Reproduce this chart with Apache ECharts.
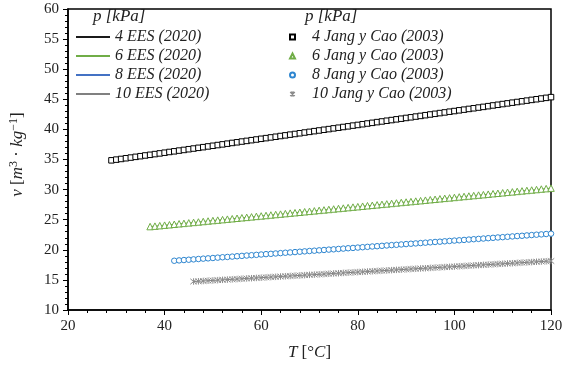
<!DOCTYPE html>
<html>
<head>
<meta charset="utf-8">
<script src="https://cdn.jsdelivr.net/npm/echarts@6/dist/echarts.min.js"></script>
<style>
  html, body { margin: 0; padding: 0; background: #fff; }
  #chart { width: 572px; height: 370px; }
</style>
</head>
<body>
<div id="chart"></div>
<script>
// Temperaturas de inicio de cada serie (°C), un punto por grado hasta 120
const tStart4 = 29;
const tStart6 = 37;
const tStart8 = 42;
const tStart10 = 46;

// Volumen específico v [m3/kg]
const v4 = [34.86, 34.98, 35.09, 35.21, 35.32, 35.44, 35.55, 35.67, 35.78, 35.90,
  36.01, 36.13, 36.25, 36.36, 36.48, 36.59, 36.71, 36.82, 36.94, 37.05,
  37.17, 37.28, 37.40, 37.51, 37.63, 37.75, 37.86, 37.98, 38.09, 38.21,
  38.32, 38.44, 38.55, 38.67, 38.78, 38.90, 39.01, 39.13, 39.24, 39.36,
  39.48, 39.59, 39.71, 39.82, 39.94, 40.05, 40.17, 40.28, 40.40, 40.51,
  40.63, 40.74, 40.86, 40.98, 41.09, 41.21, 41.32, 41.44, 41.55, 41.67,
  41.78, 41.90, 42.01, 42.13, 42.24, 42.36, 42.48, 42.59, 42.71, 42.82,
  42.94, 43.05, 43.17, 43.28, 43.40, 43.51, 43.63, 43.74, 43.86, 43.98,
  44.09, 44.21, 44.32, 44.44, 44.55, 44.67, 44.78, 44.90, 45.01, 45.13,
  45.24, 45.36];
const v6 = [23.86, 23.93, 24.01, 24.09, 24.16, 24.24, 24.32, 24.39, 24.47, 24.55,
  24.62, 24.70, 24.78, 24.86, 24.93, 25.01, 25.09, 25.16, 25.24, 25.32,
  25.39, 25.47, 25.55, 25.62, 25.70, 25.78, 25.86, 25.93, 26.01, 26.09,
  26.16, 26.24, 26.32, 26.39, 26.47, 26.55, 26.62, 26.70, 26.78, 26.86,
  26.93, 27.01, 27.09, 27.16, 27.24, 27.32, 27.39, 27.47, 27.55, 27.62,
  27.70, 27.78, 27.86, 27.93, 28.01, 28.09, 28.16, 28.24, 28.32, 28.39,
  28.47, 28.55, 28.62, 28.70, 28.78, 28.86, 28.93, 29.01, 29.09, 29.16,
  29.24, 29.32, 29.39, 29.47, 29.55, 29.62, 29.70, 29.78, 29.86, 29.93,
  30.01, 30.09, 30.16, 30.24];
const v8 = [18.18, 18.24, 18.30, 18.35, 18.41, 18.47, 18.53, 18.58, 18.64, 18.70,
  18.76, 18.81, 18.87, 18.93, 18.99, 19.05, 19.10, 19.16, 19.22, 19.28,
  19.33, 19.39, 19.45, 19.51, 19.56, 19.62, 19.68, 19.74, 19.80, 19.85,
  19.91, 19.97, 20.03, 20.08, 20.14, 20.20, 20.26, 20.31, 20.37, 20.43,
  20.49, 20.55, 20.60, 20.66, 20.72, 20.78, 20.83, 20.89, 20.95, 21.01,
  21.06, 21.12, 21.18, 21.24, 21.30, 21.35, 21.41, 21.47, 21.53, 21.58,
  21.64, 21.70, 21.76, 21.81, 21.87, 21.93, 21.99, 22.05, 22.10, 22.16,
  22.22, 22.28, 22.33, 22.39, 22.45, 22.51, 22.56, 22.62, 22.68];
const v10 = [14.73, 14.77, 14.82, 14.87, 14.91, 14.96, 15.01, 15.05, 15.10, 15.14,
  15.19, 15.24, 15.28, 15.33, 15.37, 15.42, 15.47, 15.51, 15.56, 15.61,
  15.65, 15.70, 15.74, 15.79, 15.84, 15.88, 15.93, 15.97, 16.02, 16.07,
  16.11, 16.16, 16.21, 16.25, 16.30, 16.34, 16.39, 16.44, 16.48, 16.53,
  16.57, 16.62, 16.67, 16.71, 16.76, 16.81, 16.85, 16.90, 16.94, 16.99,
  17.04, 17.08, 17.13, 17.17, 17.22, 17.27, 17.31, 17.36, 17.41, 17.45,
  17.50, 17.54, 17.59, 17.64, 17.68, 17.73, 17.77, 17.82, 17.87, 17.91,
  17.96, 18.01, 18.05, 18.10, 18.14];

const lineNames = ['4 EES (2020)', '6 EES (2020)', '8 EES (2020)', '10 EES (2020)'];
const pointNames = ['4 Jang y Cao (2003)', '6 Jang y Cao (2003)', '8 Jang y Cao (2003)', '10 Jang y Cao (2003)'];

const FONT = '"Liberation Serif", "Times New Roman", serif';

function pairs(t0, vals) {
  return vals.map((v, i) => [t0 + i, v]);
}

const chart = echarts.init(document.getElementById('chart'));

const sets = [
  { data: pairs(tStart4, v4), line: '#1a1a1a', mark: '#000000', symbol: 'rect', size: 5.5 },
  { data: pairs(tStart6, v6), line: '#70ad47', mark: '#70ad47', symbol: 'triangle', size: 6.5 },
  { data: pairs(tStart8, v8), line: '#4472c4', mark: '#2e86d0', symbol: 'circle', size: 5.5 },
  { data: pairs(tStart10, v10), line: '#808080', mark: '#8c8c8c',
    symbol: 'path://M5,0L5,10M0.8,0.8L9.2,9.2M9.2,0.8L0.8,9.2', size: 6.5 }
];

const series = [];
sets.forEach((s, i) => {
  series.push({
    name: lineNames[i],
    type: 'line',
    data: s.data,
    symbol: 'none',
    legendIcon: 'rect',
    lineStyle: { color: s.line, width: 1 },
    itemStyle: { color: s.line },
    z: 2
  });
});
sets.forEach((s, i) => {
  series.push({
    name: pointNames[i],
    type: 'scatter',
    data: s.data,
    symbol: s.symbol,
    symbolSize: s.size,
    itemStyle: {
      color: i === 3 ? 'transparent' : '#ffffff',
      borderColor: s.mark,
      borderWidth: 1,
      opacity: 1
    },
    z: 3
  });
});

const option = {
  animation: false,
  backgroundColor: '#ffffff',
  textStyle: { fontFamily: FONT },
  grid: {
    left: 62, right: 21, top: 9, bottom: 60,
    show: true, borderColor: '#000', borderWidth: 1.5
  },
  graphic: [
    { type: 'text', left: 93, top: 8,
      style: { text: 'p [kPa]', font: 'italic 17px ' + FONT, fill: '#222' } },
    { type: 'text', left: 305, top: 8,
      style: { text: 'p [kPa]', font: 'italic 17px ' + FONT, fill: '#222' } }
  ],
  legend: [
    {
      data: lineNames,
      orient: 'vertical',
      left: 70, top: 24,
      itemWidth: 34, itemHeight: 1.2, itemGap: 3,
      textStyle: { fontFamily: FONT, fontStyle: 'italic', fontSize: 16, color: '#222', lineHeight: 14 }
    },
    {
      data: pointNames,
      orient: 'vertical',
      left: 284, top: 24,
      itemWidth: 5, itemHeight: 5, itemGap: 3,
      textStyle: { fontFamily: FONT, fontStyle: 'italic', fontSize: 16, color: '#222', lineHeight: 14,
        padding: [0, 0, 0, 12] }
    }
  ],
  xAxis: {
    type: 'value',
    min: 20, max: 120, interval: 20,
    name: '{i|T} [°{i|C}]',
    nameLocation: 'middle',
    nameGap: 34,
    nameTextStyle: {
      fontFamily: FONT, fontSize: 17, color: '#222',
      rich: { i: { fontFamily: FONT, fontStyle: 'italic', fontSize: 17, color: '#222' } }
    },
    axisLine: { lineStyle: { color: '#000', width: 1.5 } },
    axisTick: { show: true, length: 5, lineStyle: { color: '#000' } },
    minorTick: { show: true, splitNumber: 5, length: 3, lineStyle: { color: '#000' } },
    splitLine: { show: false },
    axisLabel: { fontFamily: FONT, fontSize: 15, color: '#222', margin: 9 }
  },
  yAxis: {
    type: 'value',
    min: 10, max: 60, interval: 5,
    name: '{i|v} [{i|m}{sup|3} · {i|kg}{sup|−1}]',
    nameLocation: 'middle',
    nameGap: 40,
    nameRotate: 90,
    nameTextStyle: {
      fontFamily: FONT, fontSize: 17, color: '#222', padding: [0, 0, 0, 10],
      rich: {
        i: { fontFamily: FONT, fontStyle: 'italic', fontSize: 17, color: '#222' },
        sup: { fontFamily: FONT, fontSize: 12, color: '#222', verticalAlign: 'top', padding: [0, 0, 8, 0] }
      }
    },
    axisLine: { show: true, lineStyle: { color: '#000', width: 1.5 } },
    axisTick: { show: true, length: 5, lineStyle: { color: '#000' } },
    minorTick: { show: true, splitNumber: 5, length: 3, lineStyle: { color: '#000' } },
    splitLine: { show: false },
    axisLabel: { fontFamily: FONT, fontSize: 15, color: '#222', margin: 9 }
  },
  series: series
};

chart.setOption(option);
</script>
</body>
</html>
